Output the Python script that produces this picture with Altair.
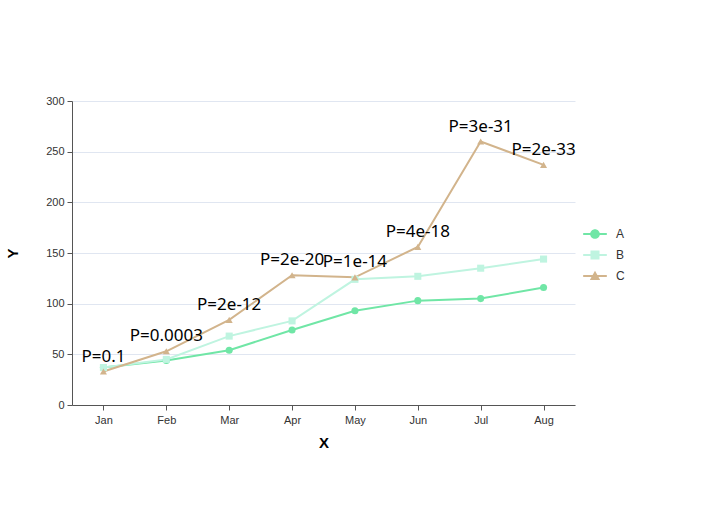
import altair as alt
import pandas as pd

months = ["Jan", "Feb", "Mar", "Apr", "May", "Jun", "Jul", "Aug"]
a_vals = [37, 44, 54, 74, 93, 103, 105, 116]
b_vals = [37, 45, 68, 83, 124, 127, 135, 144]
c_vals = [33, 53, 84, 128, 126, 156, 260, 237]
p_labels = ["P=0.1", "P=0.0003", "P=2e-12", "P=2e-20", "P=1e-14", "P=4e-18", "P=3e-31", "P=2e-33"]
series_names = ["A", "B", "C"]
colors = ["#70e6a6", "#bff4e0", "#d2b48c"]
point_shapes = ["circle", "square", "triangle-up"]

rows = []
for name, vals in zip(series_names, [a_vals, b_vals, c_vals]):
    for i, (m, v) in enumerate(zip(months, vals)):
        rows.append({"month": m, "value": v, "series": name,
                     "label": p_labels[i] if name == "C" else ""})
df = pd.DataFrame(rows)

# legend symbols: a short line with a marker on it
legend_paths = [
    "M-1.1,-0.09H1.1V0.09H-1.1Z M0.45,0A0.45,0.45,0,1,1,-0.45,0A0.45,0.45,0,1,1,0.45,0Z",
    "M-1.1,-0.09H1.1V0.09H-1.1Z M-0.42,-0.42H0.42V0.42H-0.42Z",
    "M-1.1,-0.09H1.1V0.09H-1.1Z M0,-0.5L0.48,0.38H-0.48Z",
]

font_axis = "Liberation Sans"

x_enc = alt.X("month:N", sort=months, title="X",
              axis=alt.Axis(labelAngle=0, labelFontSize=11, labelColor="#333",
                            labelFont=font_axis, titleFont=font_axis, titleFontSize=15,
                            titleFontWeight="bold", titleColor="#000", titlePadding=10,
                            domainColor="#555", tickColor="#555", tickSize=5,
                            grid=False, labelPadding=4))
y_enc = alt.Y("value:Q", title="Y",
              scale=alt.Scale(domain=[0, 300], nice=False),
              axis=alt.Axis(values=[0, 50, 100, 150, 200, 250, 300], labelFontSize=11,
                            labelColor="#333", labelFont=font_axis, titleFont=font_axis,
                            titleFontSize=15, titleFontWeight="bold", titleColor="#000",
                            titlePadding=25, domainColor="#555", tickColor="#555",
                            tickSize=5, gridColor="#e0e6f1", labelPadding=3))
color_scale = alt.Scale(domain=series_names, range=colors)
shape_scale = alt.Scale(domain=series_names, range=legend_paths)
legend = alt.Legend(title=None, orient="none", legendX=512, legendY=122,
                    padding=0, rowPadding=4, symbolSize=462,
                    symbolStrokeWidth=0, labelFontSize=12,
                    labelFont=font_axis, labelColor="#333", labelOffset=10)

base = alt.Chart(df)

lines = base.mark_line(strokeWidth=2).encode(
    x=x_enc, y=y_enc,
    color=alt.Color("series:N", scale=color_scale, legend=legend),
)

point_layers = []
for name, shp in zip(series_names, point_shapes):
    point_layers.append(
        base.transform_filter(alt.datum.series == name).mark_point(
            filled=True, shape=shp, size=50, opacity=1
        ).encode(x=x_enc, y=y_enc,
                 color=alt.Color("series:N", scale=color_scale, legend=legend))
    )

texts = base.transform_filter(alt.datum.series == "C").mark_text(
    font="Noto Sans", fontSize=17, color="#000", baseline="middle", dy=-15
).encode(x=x_enc, y=y_enc, text="label:N")

legend_layer = base.transform_filter("false").mark_point(filled=True, opacity=1).encode(
    x=x_enc, y=y_enc,
    color=alt.Color("series:N", scale=color_scale, legend=legend),
    shape=alt.Shape("series:N", scale=shape_scale, legend=legend),
)

chart = alt.layer(lines, *point_layers, texts, legend_layer).properties(
    width=503, height=304,
    padding={"top": 95, "left": 5, "right": 5, "bottom": 5},
).configure(background="white").configure_view(stroke=None)

chart.save("out.html", embed_options={"renderer": "svg", "actions": False})
